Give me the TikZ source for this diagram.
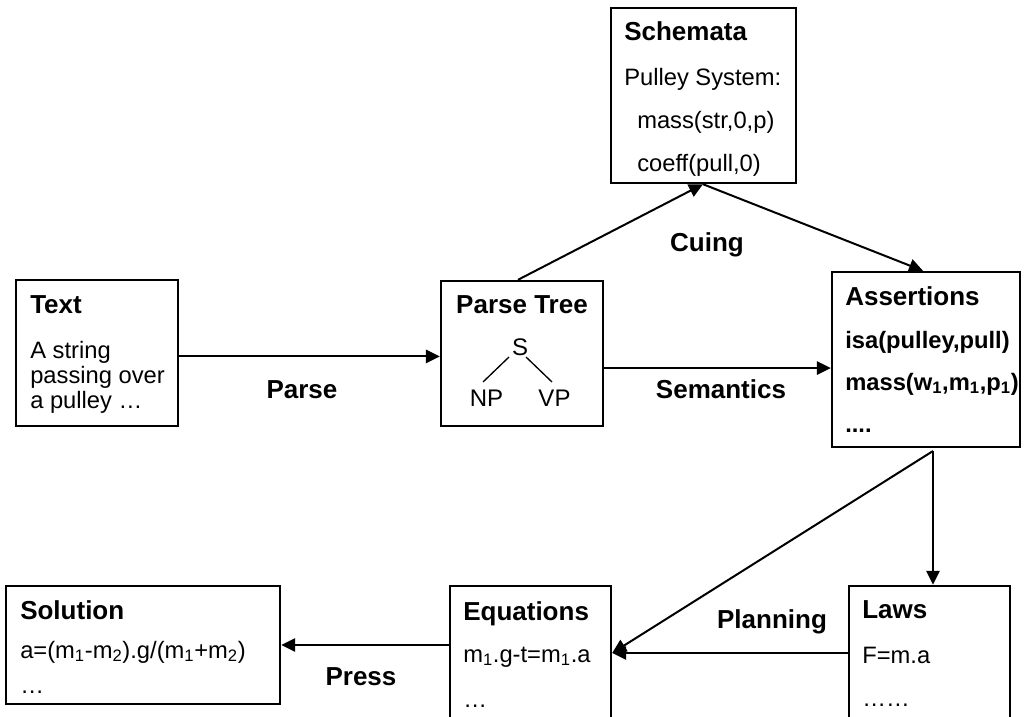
\documentclass[tikz,border=0pt]{standalone}
\usepackage{fontspec}
\setmainfont{Liberation Sans}
\usetikzlibrary{arrows.meta,fit,calc}
\begin{document}
\begin{tikzpicture}[x=0.75pt,y=-0.75pt,
  box/.style={draw, line width=1.8pt, inner sep=0pt},
  ttl/.style={anchor=base west, inner sep=0pt, font=\fontsize{19.5}{22}\selectfont\bfseries},
  body/.style={anchor=base west, inner sep=0pt, font=\fontsize{17.8}{20}\selectfont},
  bbody/.style={anchor=base west, inner sep=0pt, font=\fontsize{17.8}{20}\selectfont\bfseries},
  lbl/.style={anchor=base, inner sep=0pt, font=\fontsize{19.5}{22}\selectfont\bfseries},
  tree/.style={anchor=base, inner sep=0pt, font=\fontsize{18}{20}\selectfont},
  arr/.style={line width=1.5pt, -{Triangle[length=10.5pt,width=10pt]}},
  con/.style={line width=1.5pt}
]
\clip (0,0) rectangle (1024,717);
\fill[white] (0,0) rectangle (1024,717);

% boxes
\node[box, fit={(611,8) (796,183)}] (sch) {};
\node[box, fit={(16,280) (178,426)}] (txt) {};
\node[box, fit={(441,281) (603,426)}] (pt) {};
\node[box, fit={(832,272) (1020,447)}] (as) {};
\node[box, fit={(849,586) (1010,720)}] (laws) {};
\node[box, fit={(450,586) (611,720)}] (eq) {};
\node[box, fit={(6,586) (280,704)}] (sol) {};

% Schemata
\node[ttl] (schT) at (624,41) {Schemata};
\node[body] (sch1) at (624,85) {Pulley System:};
\node[body] (sch2) at (637,128) {mass(str,0,p)};
\node[body] (sch3) at (637,171) {coeff(pull,0)};

% Text
\node[ttl] (txtT) at (30,313) {Text};
\node[body] (txt1) at (30,358) {A string};
\node[body] (txt2) at (30,383) {passing over};
\node[body] (txt3) at (30,408) {a pulley …};

% Parse Tree
\node[lbl] (ptT) at (522,313) {Parse Tree};
\node[tree] (S) at (520,355) {S};
\node[tree] (NP) at (486.5,406) {NP};
\node[tree] (VP) at (554.5,406) {VP};
\draw[line width=1pt] ($(S.base)+(-11,2)$) -- ($(NP.base)+(-3.5,-24)$);
\draw[line width=1pt] ($(S.base)+(6,2)$) -- ($(VP.base)+(-2.5,-24)$);

% Assertions
\node[ttl] (asT) at (845,305) {Assertions};
\node[bbody] (as1) at (845,348) {isa(pulley,pull)};
\node[bbody] (as2) at (845,390) {mass(w\textsubscript{1},m\textsubscript{1},p\textsubscript{1})};
\node[bbody] (as3) at (845,432) {....};

% Laws
\node[ttl] (lawsT) at (862,618) {Laws};
\node[body] (laws1) at (862,663) {F=m.a};
\node[body] (laws2) at (862,706) {……};

% Equations
\node[ttl] (eqT) at (463,620) {Equations};
\node[body] (eq1) at (463,662) {m\textsubscript{1}.g-t=m\textsubscript{1}.a};
\node[body] (eq2) at (463,707) {…};

% Solution
\node[ttl] (solT) at (20,619) {Solution};
\node[body] (sol1) at (20,658) {a=(m\textsubscript{1}-m\textsubscript{2}).g/(m\textsubscript{1}+m\textsubscript{2})};
\node[body] (sol2) at (20,693) {…};

% connectors
\coordinate (schin) at ($(sch.south)+(-0.5,0)$);
\coordinate (ap) at (933,451);
\draw[arr] ([yshift=-2.6pt]txt.east) -- ([yshift=-2.6pt]txt.east -| pt.west);
\draw[arr] ($(pt.north)+(-4,0)$) -- (schin);
\draw[arr] (schin) -- ($(as.north)+(-3,0)$);
\draw[arr] ([yshift=-10.9pt]pt.east) -- ([yshift=-10.9pt]pt.east -| as.west);
\draw[arr] (ap) -- (ap |- laws.north);
\draw[arr] (ap) -- (eq.east);
\draw[arr] (laws.west) -- (eq.east);
\draw[arr] (eq.west |- sol.east) -- (sol.east);

% labels
\node[lbl] (lParse) at (302,398) {Parse};
\node[lbl] (lCuing) at (707,251) {Cuing};
\node[lbl] (lSem) at (721,398) {Semantics};
\node[lbl] (lPlan) at (772,628) {Planning};
\node[lbl] (lPress) at (361,685) {Press};
\end{tikzpicture}
\end{document}
